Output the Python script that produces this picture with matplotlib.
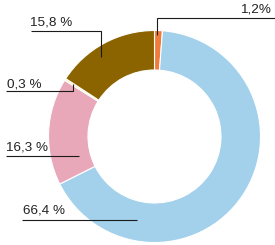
import matplotlib
matplotlib.use("Agg")
import matplotlib.pyplot as plt

labels = ["1,2%", "66,4 %", "16,3 %", "0,3 %", "15,8 %"]
values = [1.2, 66.4, 16.3, 0.3, 15.8]
colors = ["#f07c3c", "#a3d0eb", "#e9a8ba", "#fbefb4", "#8b6400"]

W, H = 275, 245
fig = plt.figure(figsize=(W / 100, H / 100), dpi=100)
ax = fig.add_axes([0, 0, 1, 1])

cx, cy, R, r_in = 154.5, H - 136.5, 106, 66.5
ax.pie(values, colors=colors, startangle=90, counterclock=False,
       center=(cx, cy), radius=R, frame=True,
       wedgeprops=dict(width=R - r_in, edgecolor="white", linewidth=0.8))
ax.set_xlim(0, W)
ax.set_ylim(0, H)
ax.set_aspect("equal")
ax.axis("off")

def py(y):
    return H - y

lc = "#1a1a1a"
lw = 0.8
# leader lines (pixel layout of the reference)
leaders = {
    "1,2%":   [(275, 18.5), (156.5, 18.5), (156.5, 35)],
    "15,8 %": [(31, 31), (100.5, 31), (100.5, 57)],
    "0,3 %":  [(6, 91.5), (72.5, 91.5), (72.5, 84)],
    "16,3 %": [(6, 155.5), (79, 155.5)],
    "66,4 %": [(22, 219.5), (137, 219.5)],
}
text_pos = {
    "1,2%":   (271, 13, "right"),
    "15,8 %": (30, 25.5, "left"),
    "0,3 %":  (7, 87.5, "left"),
    "16,3 %": (6, 150.5, "left"),
    "66,4 %": (23, 213.5, "left"),
}
for lab in labels:
    pts = leaders[lab]
    ax.plot([p[0] for p in pts], [py(p[1]) for p in pts], color=lc, lw=lw,
            solid_capstyle="butt", solid_joinstyle="miter")
    x, y, ha = text_pos[lab]
    ax.text(x, py(y), lab, ha=ha, va="baseline", fontsize=9.7,
            family="Liberation Sans", color="#222222")

fig.savefig("out.png", dpi=100)
